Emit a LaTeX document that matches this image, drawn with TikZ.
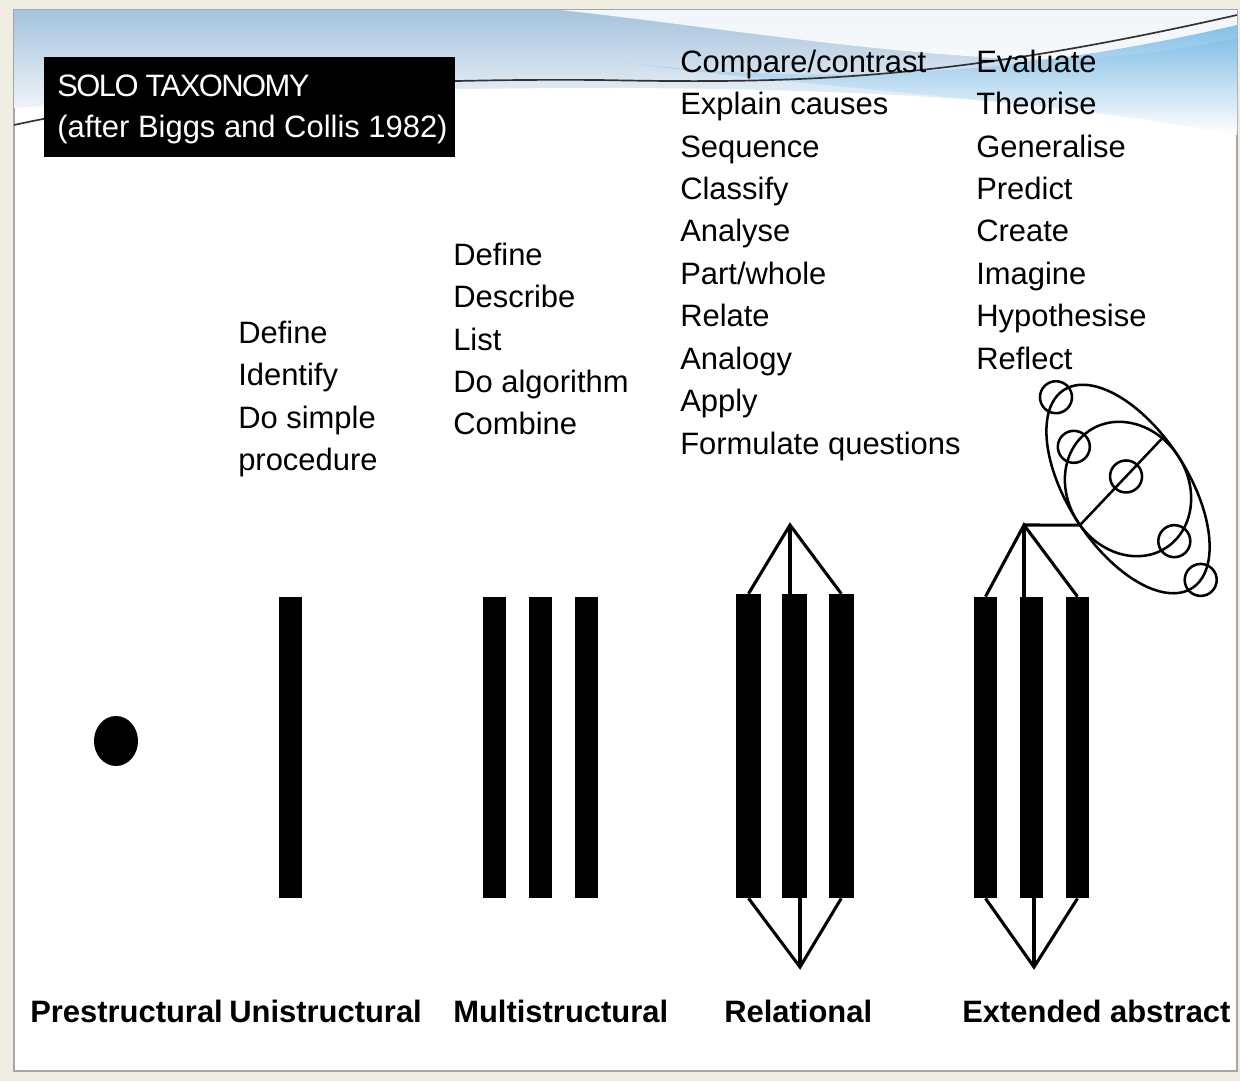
\documentclass[tikz,border=0pt]{standalone}
\usepackage{fontspec}
\setmainfont{Liberation Sans}
\usetikzlibrary{shapes.geometric, positioning, calc}

\definecolor{pagebeige}{RGB}{239,236,225}
\definecolor{skyband}{RGB}{165,195,220}
\definecolor{swoosh}{RGB}{105,180,228}

\begin{document}
\begin{tikzpicture}[
        x=0.025cm, y=-0.025cm,
        node distance=0.56cm,
        verbs/.style={align=left, anchor=north west, inner sep=0pt, font=\fontsize{22}{30.2}\selectfont},
        level/.style={anchor=base west, inner sep=0pt, font=\fontsize{22}{26}\selectfont\bfseries},
        bar/.style={rectangle, fill=black, inner sep=0pt, minimum width=0.575cm, minimum height=7.53cm},
        relbar/.style={bar, minimum width=0.625cm, minimum height=7.6cm},
        link/.style={line width=2.2pt},
        ring/.style={line width=1.8pt},
    ]
        \useasboundingbox (0,0) rectangle (1240,1081);

        % page and slide panel
        \fill[pagebeige] (0,0) rectangle (1240,1081);
        \filldraw[fill=white, draw=black!35, line width=0.8pt] (14,10) rectangle (1237,1071);

        % theme swoosh at the top
        \shade[top color=skyband, bottom color=white] (14,10) -- (1237,10) -- (1237,130)
            .. controls (1050,100) and (850,88) .. (600,88) .. controls (350,88) and (150,98) .. (14,108) -- cycle;
        \fill[white, opacity=0.85] (560,10) .. controls (700,25) and (850,50) .. (1000,58)
            .. controls (1100,62) and (1180,50) .. (1237,38) -- (1237,10) -- cycle;
        \shade[top color=swoosh, bottom color=white, opacity=0.8] (620,62) .. controls (800,84) and (1000,80) .. (1237,25)
            -- (1237,135) .. controls (1050,100) and (850,92) .. (620,62) -- cycle;
        \draw[black!80, line width=1.2pt] (14,125) .. controls (150,95) and (350,78) .. (600,80)
            .. controls (800,84) and (950,80) .. (1237,15);

        % title box
        \node (titlebox) [fill=black, anchor=north west, inner sep=0pt, minimum width=10.275cm, minimum height=2.5cm] at (44,57) {};
        \node (title) [verbs, text=white, font=\fontsize{22}{29.1}\selectfont] at (57,74.4)
            {{\addfontfeature{LetterSpace=-5}SOLO TAXONOMY}\\(after Biggs and Collis 1982)};

        % verbs of each level
        \node (univerbs) [verbs] at (238,320.4) {Define\\Identify\\Do simple\\procedure};
        \node (multiverbs) [verbs] at (453,242.4) {Define\\Describe\\List\\Do algorithm\\Combine};
        \node (relverbs) [verbs] at (680,49.4) {Compare/contrast\\Explain causes\\Sequence\\Classify\\Analyse\\Part/whole\\Relate\\Analogy\\Apply\\Formulate questions};
        \node (extverbs) [verbs] at (976,49.4) {Evaluate\\Theorise\\Generalise\\Predict\\Create\\Imagine\\Hypothesise\\Reflect};

        % level names
        \node (pre) [level] at (30,1022) {Prestructural};
        \node (uni) [level] at (229,1022) {Unistructural};
        \node (multi) [level] at (453,1022) {Multistructural};
        \node (rel) [level] at (724,1022) {Relational};
        \node (ext) [level] at (962,1022) {Extended abstract};

        % prestructural and unistructural
        \node (point) [ellipse, fill=black, inner sep=0pt, minimum width=1.1cm, minimum height=1.25cm] at (116,741) {};
        \node (unibar) [bar] at (290,747.5) {};

        % multistructural
        \node (multibar1) [bar] at (494.5,747.5) {};
        \node (multibar2) [bar, right=of multibar1] {};
        \node (multibar3) [bar, right=of multibar2] {};

        % relational
        \node (relbar1) [relbar] at (748.5,746) {};
        \node (relbar2) [relbar, right=0.52cm of relbar1] {};
        \node (relbar3) [relbar, right=0.52cm of relbar2] {};
        \coordinate (reltop) at (790,525);
        \coordinate (relbot) at (800,967);
        \draw [link] (relbar1.north) -- (reltop) -- (relbar3.north);
        \draw [link] (reltop) -- (reltop |- relbar2.north);
        \draw [link] (relbar1.south) -- (relbot) -- (relbar3.south);
        \draw [link] (relbot) -- (relbot |- relbar2.south);

        % extended abstract
        \node (extbar1) [bar] at (985.5,747.5) {};
        \node (extbar2) [bar, right=of extbar1] {};
        \node (extbar3) [bar, right=of extbar2] {};
        \coordinate (exttop) at (1024,525);
        \coordinate (extbot) at (1034,967);
        \draw [link] (extbar1.north) -- (exttop) -- (extbar3.north);
        \draw [link] (exttop) -- (exttop |- extbar2.north);
        \draw [link] (extbar1.south) -- (extbot) -- (extbar3.south);
        \draw [link] (extbot) -- (extbot |- extbar2.south);

        % the wider field
        \begin{scope}[shift={(1128,489)}, x=0.025cm, y=0.025cm, rotate=-57]
            \draw [ring] (0,0) ellipse (118 and 60);
            \draw [ring] (0,0) ellipse (70 and 60);
            \coordinate (hook) at (272:118 and 60);
            \coordinate (spoke) at (110:70 and 60);
            \draw [ring] (spoke) -- (hook);
            \draw [ring] (190:118 and 60) circle (16);
            \draw [ring] (11:118 and 60) circle (16);
            \draw [ring] (202:70 and 60) circle (16);
            \draw [ring] (10:70 and 60) circle (16);
            \draw [ring] ($(spoke)!0.44!(hook)$) circle (16);
        \end{scope}
        \draw [link] (exttop) -- (hook);
    \end{tikzpicture}
\end{document}
